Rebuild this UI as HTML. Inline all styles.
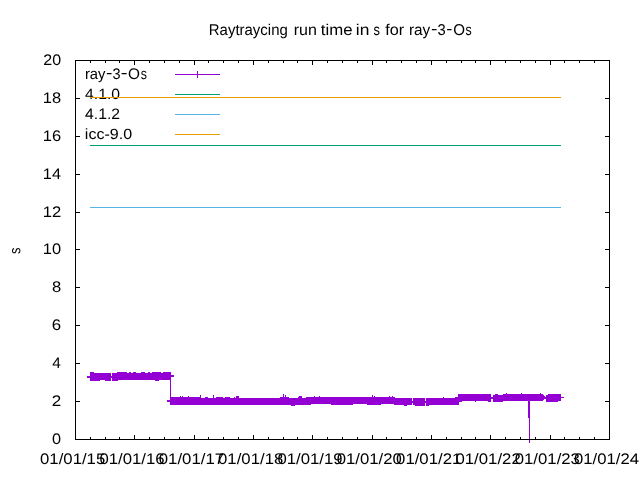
<!DOCTYPE html>
<html><head><meta charset="utf-8"><style>
html,body{margin:0;padding:0;background:#fff;width:640px;height:480px;overflow:hidden}
svg{display:block;will-change:transform}
text{fill:#000;font-family:"Liberation Sans",sans-serif}
</style></head><body>
<svg width="640" height="480" viewBox="0 0 640 480">
<rect width="640" height="480" fill="#fff"/>
<g><text transform="matrix(0.99871,0,0.002,1.04167,208.771,34.750)" font-size="15">Raytraycing</text><text transform="matrix(1.07055,0,0.002,1.04167,293.734,34.750)" font-size="15">run</text><text transform="matrix(1.12229,0,0.002,1.04167,320.845,34.750)" font-size="15">time</text><text transform="matrix(1.16528,0,0.002,1.04167,355.831,34.750)" font-size="15">in</text><text transform="matrix(0.85620,0,0.002,1.04167,373.543,34.750)" font-size="15">s</text><text transform="matrix(1.08546,0,0.002,1.04167,385.169,34.750)" font-size="15">for</text><text transform="matrix(1.02715,0,0.002,1.04167,408.877,34.750)" font-size="15">ray</text><text transform="matrix(0.98428,0,0.002,1.04167,437.438,34.750)" font-size="15">3</text><text transform="matrix(1.01082,0,0.002,1.04167,453.182,34.750)" font-size="15">O</text><text transform="matrix(0.82562,0,0.002,1.04167,465.555,34.750)" font-size="15">s</text><text transform="matrix(1.29707,0,0.002,1.10969,430.885,33.672)" font-size="15">-</text><text transform="matrix(1.22880,0,0.002,1.10969,446.181,33.672)" font-size="15">-</text><text transform="matrix(1.08780,0,0.002,1.02166,52.063,443.600)" font-size="15">0</text><text transform="matrix(1.14144,0,0.002,1.02166,51.839,405.600)" font-size="15">2</text><text transform="matrix(1.03194,0,0.002,1.02166,52.345,367.600)" font-size="15">4</text><text transform="matrix(1.12694,0,0.002,1.02166,51.842,329.600)" font-size="15">6</text><text transform="matrix(1.10818,0,0.002,1.02166,51.978,291.600)" font-size="15">8</text><text transform="matrix(1.09655,0,0.002,1.02166,42.847,253.600)" font-size="15">10</text><text transform="matrix(1.10904,0,0.002,1.02166,42.833,216.600)" font-size="15">12</text><text transform="matrix(1.08591,0,0.002,1.02166,42.859,178.600)" font-size="15">14</text><text transform="matrix(1.10194,0,0.002,1.02166,42.841,140.600)" font-size="15">16</text><text transform="matrix(1.10140,0,0.002,1.02166,42.842,102.600)" font-size="15">18</text><text transform="matrix(1.06881,0,0.002,1.02166,43.294,64.600)" font-size="15">20</text><text transform="matrix(1.11766,0,0.002,1.01695,40.045,463.551)" font-size="15">01/01/15</text><text transform="matrix(1.11824,0,0.002,1.01695,99.378,463.551)" font-size="15">01/01/16</text><text transform="matrix(1.12010,0,0.002,1.01695,158.710,463.551)" font-size="15">01/01/17</text><text transform="matrix(1.11809,0,0.002,1.01695,218.045,463.551)" font-size="15">01/01/18</text><text transform="matrix(1.11924,0,0.002,1.01695,277.378,463.551)" font-size="15">01/01/19</text><text transform="matrix(1.11680,0,0.002,1.01695,336.712,463.551)" font-size="15">01/01/20</text><text transform="matrix(1.11967,0,0.002,1.01695,396.044,463.551)" font-size="15">01/01/21</text><text transform="matrix(1.12010,0,0.002,1.01695,455.377,463.551)" font-size="15">01/01/22</text><text transform="matrix(1.11824,0,0.002,1.01695,514.711,463.551)" font-size="15">01/01/23</text><text transform="matrix(1.11395,0,0.002,1.01695,574.047,463.551)" font-size="15">01/01/24</text><text transform="matrix(0.002,-0.86384,1.02492,0,20.150,254.111)" font-size="15">s</text><text transform="matrix(0.98930,0,0.002,1.02072,84.915,78.650)" font-size="15">ray</text><text transform="matrix(0.97022,0,0.002,1.02072,112.446,78.650)" font-size="15">3</text><text transform="matrix(1.02546,0,0.002,1.02072,128.071,78.650)" font-size="15">O</text><text transform="matrix(0.82562,0,0.002,1.02072,140.655,78.650)" font-size="15">s</text><text transform="matrix(1.29707,0,0.002,1.10969,105.885,78.122)" font-size="15">-</text><text transform="matrix(1.36533,0,0.002,1.10969,120.790,78.122)" font-size="15">-</text><text transform="matrix(1.05144,0,0.002,0.99812,85.038,98.553)" font-size="15">4.1.0</text><text transform="matrix(1.05073,0,0.002,1.01213,85.038,118.700)" font-size="15">4.1.2</text><text transform="matrix(1.07301,0,0.002,0.98947,84.823,138.655)" font-size="15">icc-9.0</text></g>
<g shape-rendering="crispEdges"><path d="M175 74.5H220M197.5 71V78" stroke="#9400d3" stroke-width="1"/><path d="M175 94.5H220" stroke="#009e73" stroke-width="1"/><path d="M175 114.5H220" stroke="#56b4e9" stroke-width="1"/><path d="M175 134.5H220" stroke="#e69f00" stroke-width="1"/><path d="M90 97.5H561" stroke="#e69f00" stroke-width="1"/><path d="M90 145.5H561" stroke="#009e73" stroke-width="1"/><path d="M90 207.5H561" stroke="#56b4e9" stroke-width="1"/></g>
<g fill="#9400d3" shape-rendering="crispEdges"><rect x="90" y="372" width="4" height="9"/><rect x="94" y="373" width="6" height="8"/><rect x="100" y="373" width="5" height="7"/><rect x="105" y="373" width="6" height="8"/><rect x="111" y="376" width="1" height="2"/><rect x="112" y="373" width="5" height="8"/><rect x="117" y="372" width="1" height="9"/><rect x="118" y="372" width="9" height="8"/><rect x="127" y="373" width="2" height="7"/><rect x="129" y="372" width="2" height="8"/><rect x="131" y="373" width="2" height="7"/><rect x="133" y="372" width="3" height="8"/><rect x="136" y="373" width="5" height="7"/><rect x="141" y="372" width="4" height="8"/><rect x="145" y="373" width="3" height="7"/><rect x="148" y="372" width="2" height="8"/><rect x="150" y="373" width="2" height="7"/><rect x="152" y="372" width="3" height="8"/><rect x="155" y="372" width="4" height="9"/><rect x="159" y="372" width="2" height="8"/><rect x="161" y="373" width="2" height="7"/><rect x="163" y="372" width="7" height="8"/><rect x="170" y="397" width="10" height="8"/><rect x="180" y="396" width="1" height="9"/><rect x="181" y="397" width="1" height="8"/><rect x="182" y="396" width="1" height="9"/><rect x="183" y="397" width="5" height="8"/><rect x="188" y="396" width="1" height="9"/><rect x="189" y="397" width="11" height="8"/><rect x="200" y="395" width="1" height="10"/><rect x="201" y="398" width="4" height="7"/><rect x="205" y="397" width="3" height="8"/><rect x="208" y="398" width="5" height="7"/><rect x="213" y="395" width="1" height="10"/><rect x="214" y="398" width="2" height="7"/><rect x="216" y="397" width="7" height="8"/><rect x="223" y="398" width="2" height="7"/><rect x="225" y="397" width="5" height="8"/><rect x="230" y="398" width="4" height="7"/><rect x="234" y="397" width="1" height="8"/><rect x="235" y="398" width="1" height="7"/><rect x="236" y="396" width="3" height="9"/><rect x="239" y="398" width="41" height="7"/><rect x="280" y="397" width="3" height="8"/><rect x="283" y="394" width="1" height="11"/><rect x="284" y="397" width="1" height="8"/><rect x="285" y="395" width="1" height="10"/><rect x="286" y="397" width="3" height="8"/><rect x="289" y="398" width="2" height="7"/><rect x="291" y="398" width="4" height="8"/><rect x="295" y="398" width="3" height="7"/><rect x="298" y="397" width="1" height="8"/><rect x="299" y="396" width="3" height="9"/><rect x="302" y="398" width="4" height="7"/><rect x="306" y="397" width="5" height="8"/><rect x="311" y="397" width="3" height="7"/><rect x="314" y="396" width="1" height="8"/><rect x="315" y="397" width="4" height="7"/><rect x="319" y="396" width="1" height="8"/><rect x="320" y="397" width="11" height="7"/><rect x="331" y="397" width="22" height="8"/><rect x="353" y="397" width="14" height="7"/><rect x="367" y="397" width="5" height="8"/><rect x="372" y="395" width="1" height="10"/><rect x="373" y="397" width="1" height="8"/><rect x="374" y="396" width="1" height="9"/><rect x="375" y="397" width="6" height="8"/><rect x="381" y="397" width="8" height="7"/><rect x="389" y="396" width="1" height="8"/><rect x="390" y="397" width="2" height="7"/><rect x="392" y="396" width="1" height="8"/><rect x="393" y="397" width="1" height="7"/><rect x="394" y="397" width="1" height="8"/><rect x="395" y="398" width="9" height="7"/><rect x="404" y="398" width="3" height="8"/><rect x="407" y="398" width="5" height="7"/><rect x="412" y="401" width="1" height="2"/><rect x="413" y="398" width="2" height="7"/><rect x="415" y="398" width="10" height="8"/><rect x="425" y="401" width="1" height="2"/><rect x="426" y="398" width="3" height="8"/><rect x="429" y="398" width="14" height="7"/><rect x="443" y="397" width="1" height="8"/><rect x="444" y="398" width="11" height="7"/><rect x="455" y="397" width="3" height="8"/><rect x="458" y="394" width="1" height="11"/><rect x="459" y="394" width="3" height="8"/><rect x="462" y="394" width="13" height="7"/><rect x="475" y="394" width="1" height="8"/><rect x="476" y="394" width="12" height="7"/><rect x="488" y="394" width="3" height="8"/><rect x="491" y="397" width="2" height="2"/><rect x="493" y="395" width="2" height="7"/><rect x="495" y="394" width="3" height="8"/><rect x="498" y="395" width="5" height="7"/><rect x="503" y="394" width="3" height="7"/><rect x="506" y="393" width="1" height="8"/><rect x="507" y="394" width="14" height="7"/><rect x="521" y="393" width="1" height="8"/><rect x="522" y="394" width="18" height="7"/><rect x="540" y="393" width="1" height="8"/><rect x="541" y="394" width="2" height="7"/><rect x="543" y="395" width="1" height="5"/><rect x="544" y="396" width="1" height="3"/><rect x="545" y="397" width="1" height="2"/><rect x="546" y="395" width="2" height="7"/><rect x="548" y="394" width="10" height="8"/><rect x="558" y="394" width="3" height="7"/><rect x="170" y="372" width="1" height="8"/><rect x="87" y="376" width="3" height="2"/><rect x="171" y="375" width="3" height="2"/><rect x="167" y="400" width="3" height="2"/><rect x="561" y="397" width="3" height="1"/><rect x="528" y="401" width="2" height="17"/><rect x="529" y="418" width="1" height="25"/><rect x="170" y="379" width="1" height="19"/></g>
<g shape-rendering="crispEdges"><rect x="75.5" y="60.5" width="534" height="379" fill="none" stroke="#000" stroke-width="1"/><path d="M75 401.5H80M610 401.5H605M75 363.5H80M610 363.5H605M75 325.5H80M610 325.5H605M75 287.5H80M610 287.5H605M75 249.5H80M610 249.5H605M75 212.5H80M610 212.5H605M75 174.5H80M610 174.5H605M75 136.5H80M610 136.5H605M75 98.5H80M610 98.5H605M90.5 440V437M90.5 60V63M105.5 440V437M105.5 60V63M119.5 440V437M119.5 60V63M134.5 440V435M134.5 60V65M149.5 440V437M149.5 60V63M164.5 440V437M164.5 60V63M179.5 440V437M179.5 60V63M194.5 440V435M194.5 60V65M208.5 440V437M208.5 60V63M223.5 440V437M223.5 60V63M238.5 440V437M238.5 60V63M253.5 440V435M253.5 60V65M268.5 440V437M268.5 60V63M283.5 440V437M283.5 60V63M297.5 440V437M297.5 60V63M312.5 440V435M312.5 60V65M327.5 440V437M327.5 60V63M342.5 440V437M342.5 60V63M357.5 440V437M357.5 60V63M372.5 440V435M372.5 60V65M386.5 440V437M386.5 60V63M401.5 440V437M401.5 60V63M416.5 440V437M416.5 60V63M431.5 440V435M431.5 60V65M446.5 440V437M446.5 60V63M461.5 440V437M461.5 60V63M475.5 440V437M475.5 60V63M490.5 440V435M490.5 60V65M505.5 440V437M505.5 60V63M520.5 440V437M520.5 60V63M535.5 440V437M535.5 60V63M550.5 440V435M550.5 60V65M564.5 440V437M564.5 60V63M579.5 440V437M579.5 60V63M594.5 440V437M594.5 60V63" stroke="#000" stroke-width="1" fill="none"/></g>
</svg>
</body></html>
